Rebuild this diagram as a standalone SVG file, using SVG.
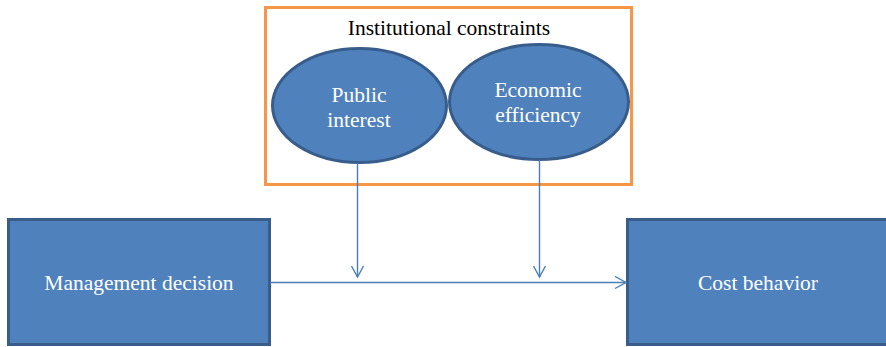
<svg xmlns="http://www.w3.org/2000/svg" width="886" height="347" viewBox="0 0 886 347">
  <style>
    .box { fill: #4f81bd; stroke: #385d8a; stroke-width: 3; }
    .frame { fill: none; stroke: #f79646; stroke-width: 3; }
    .w { fill: #ffffff; }
    .k { fill: #000000; }
    .conn { stroke: #4a7ebb; stroke-width: 1.4; fill: none; }
  </style>
  <defs>
    <!-- open chevron arrowhead shared by all connectors -->
    <marker id="chev" markerWidth="15" markerHeight="15" refX="12" refY="7" orient="auto" markerUnits="userSpaceOnUse">
      <path d="M1,1 L12,7 L1,13" fill="none" stroke="#4a7ebb" stroke-width="1.4"/>
    </marker>
  </defs>

  <g font-family="Liberation Serif, Times New Roman, serif" font-size="21.5" text-anchor="middle">
    <g id="constraints">
      <rect class="frame" x="265.5" y="7.5" width="366" height="177"/>
      <text class="k" x="449" y="35">Institutional constraints</text>
    </g>

    <g id="public-interest">
      <ellipse class="box" cx="359.5" cy="105.5" rx="87" ry="57"/>
      <text class="w" x="359" y="102">Public</text>
      <text class="w" x="359" y="127">interest</text>
    </g>

    <g id="economic-efficiency">
      <ellipse class="box" cx="539" cy="102" rx="89.5" ry="57.5"/>
      <text class="w" x="538" y="97">Economic</text>
      <text class="w" x="538" y="122">efficiency</text>
    </g>

    <g id="management-decision">
      <rect class="box" x="8.5" y="219.5" width="261" height="125"/>
      <text class="w" x="139" y="290">Management decision</text>
    </g>

    <g id="cost-behavior">
      <rect class="box" x="627.5" y="219.5" width="262" height="125"/>
      <text class="w" x="758" y="290">Cost behavior</text>
    </g>
  </g>

  <g id="connectors">
    <line class="conn" x1="270" y1="282.5" x2="626" y2="282.5" marker-end="url(#chev)"/>
    <line class="conn" x1="357.5" y1="163" x2="357.5" y2="277" marker-end="url(#chev)"/>
    <line class="conn" x1="539.5" y1="160" x2="539.5" y2="277" marker-end="url(#chev)"/>
  </g>
</svg>
